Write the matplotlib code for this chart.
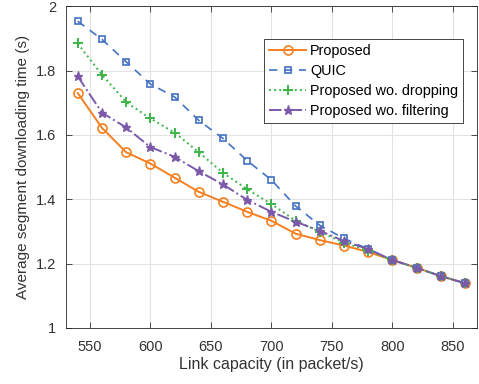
#!/usr/bin/env python3
"""Average segment downloading time vs link capacity (four schemes)."""

import matplotlib

matplotlib.use("Agg")
import matplotlib.pyplot as plt

plt.rcParams["font.family"] = ["Liberation Sans", "DejaVu Sans"]

capacity = [540, 560, 580, 600, 620, 640, 660, 680, 700, 720, 740, 760, 780, 800, 820, 840, 860]
proposed = [1.730, 1.622, 1.546, 1.511, 1.467, 1.423, 1.392, 1.361, 1.333, 1.293, 1.273, 1.256,
            1.236, 1.211, 1.187, 1.161, 1.139]
quic = [1.953, 1.897, 1.827, 1.758, 1.718, 1.645, 1.589, 1.520, 1.460, 1.379, 1.319, 1.278,
        1.245, 1.211, 1.187, 1.161, 1.139]
no_dropping = [1.884, 1.787, 1.702, 1.651, 1.607, 1.546, 1.482, 1.431, 1.385, 1.333, 1.299, 1.265,
               1.240, 1.211, 1.187, 1.161, 1.139]
no_filtering = [1.782, 1.669, 1.623, 1.562, 1.532, 1.487, 1.446, 1.398, 1.361, 1.330, 1.302, 1.270,
                1.245, 1.211, 1.187, 1.161, 1.139]

fig = plt.figure(figsize=(4.79, 3.84), dpi=100)
ax = fig.add_axes([0.137, 0.146, 0.859, 0.838])

ax.plot(capacity, proposed, "-", color="#F67F1F", linewidth=1.4, marker="o",
        markersize=6.5, markerfacecolor="none", markeredgewidth=1.2, label="Proposed")
ax.plot(capacity, quic, "--", color="#4472C4", linewidth=1.2, marker="s",
        markersize=5, markerfacecolor="none", markeredgewidth=1.2, label="QUIC", dashes=(5, 4))
ax.plot(capacity, no_dropping, ":", color="#3DB54A", linewidth=1.4, marker="+",
        markersize=7, markeredgewidth=1.4, label="Proposed wo. dropping")
ax.plot(capacity, no_filtering, "-.", color="#7B59A8", linewidth=1.4, marker="*",
        markersize=6.5, markeredgewidth=1.0, label="Proposed wo. filtering")

ax.set_xlim(530, 870)
ax.set_ylim(1, 2)
ax.set_xticks([550, 600, 650, 700, 750, 800, 850])
ax.set_yticks([1, 1.2, 1.4, 1.6, 1.8, 2])
ax.set_yticklabels(["1", "1.2", "1.4", "1.6", "1.8", "2"])
ax.grid(True, color="#E3E3E3", linewidth=0.8)
ax.set_axisbelow(True)
ax.tick_params(direction="in", top=True, right=True, labelsize=10.5,
               colors="#333333", length=4, width=0.6)
ax.tick_params(axis="x", pad=9)
ax.tick_params(axis="y", pad=7)
for s in ax.spines.values():
    s.set_color("#262626")
    s.set_linewidth(0.6)

ax.set_xlabel("Link capacity (in packet/s)", fontsize=11.5, color="#333333", labelpad=2)
ax.set_ylabel("Average segment downloading time (s)", fontsize=11, color="#333333", labelpad=4)

leg = ax.legend(loc="upper right", bbox_to_anchor=(0.966, 0.8975), borderaxespad=0,
                fontsize=10.4, fancybox=False, framealpha=1, edgecolor="#262626",
                handlelength=2.6, borderpad=0.35, labelspacing=0.42, handletextpad=0.25)
leg.get_frame().set_linewidth(0.6)

fig.savefig("out.png", dpi=100)
